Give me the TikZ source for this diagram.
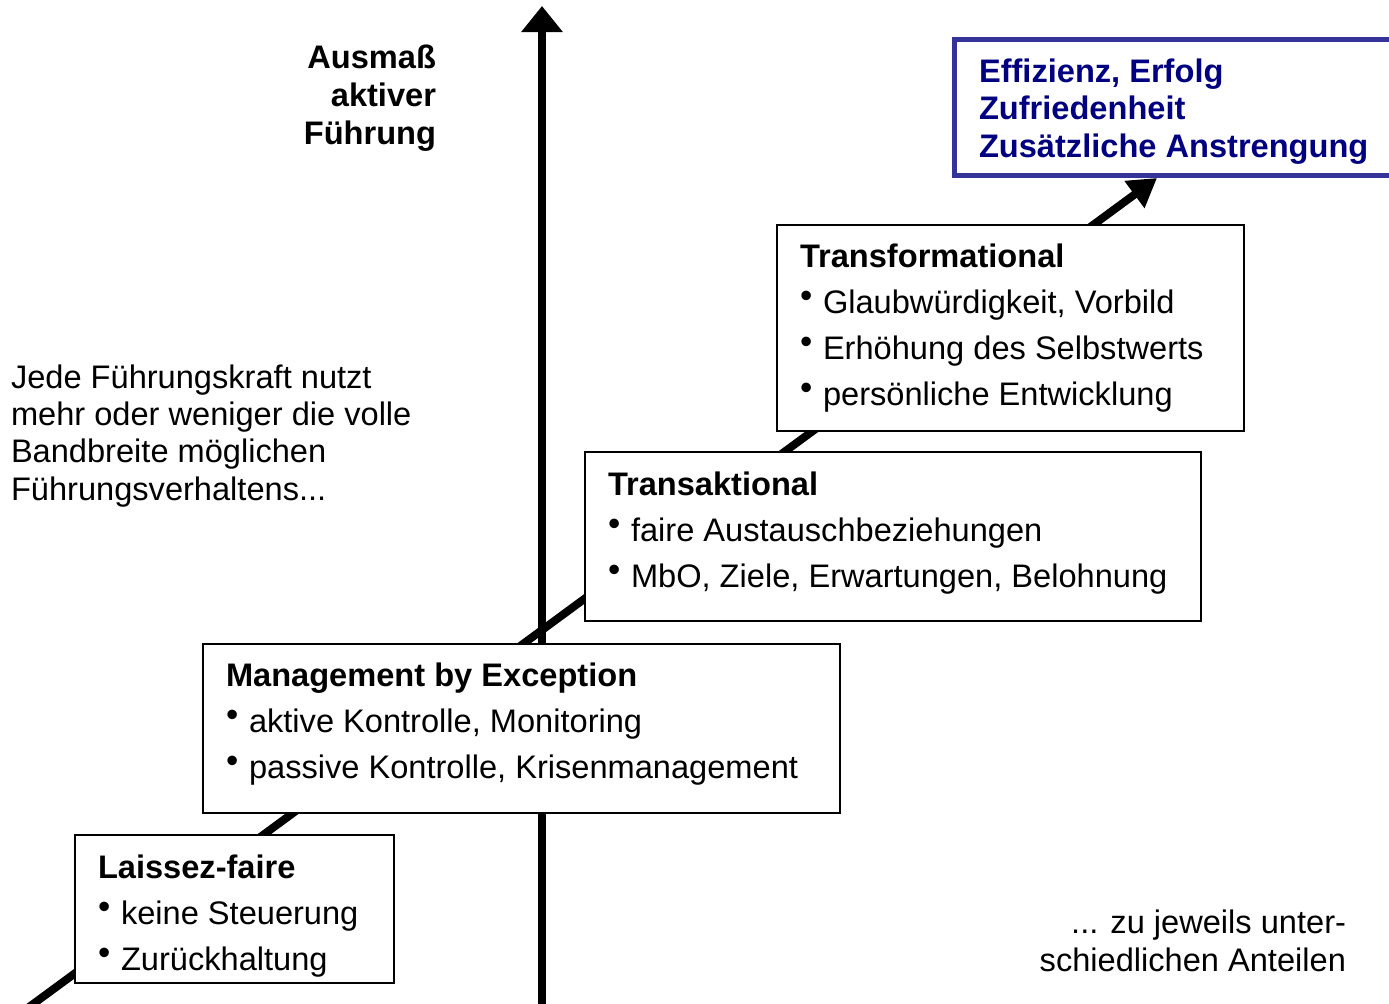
\documentclass[tikz,border=0pt]{standalone}
\usepackage{fontspec}
\setmainfont{Liberation Sans}
\usetikzlibrary{arrows.meta}
\definecolor{navytext}{HTML}{000080}
\definecolor{blueframe}{HTML}{333399}
\newcommand{\bul}{\makebox[11.5pt][l]{\raisebox{2.7pt}{\fontsize{17.5}{17.5}\selectfont\textbullet}}}
\newcommand{\fstrut}{\rule{0pt}{12pt}}
\begin{document}
\begin{tikzpicture}[x=0.5pt,y=-0.5pt,
  box/.style={draw=black,line width=1pt,fill=white,anchor=north west,inner sep=0pt,outer sep=0pt},
  boxtext/.style={anchor=north west,inner sep=0pt,outer sep=0pt,align=left,font=\fontsize{16.3}{23}\selectfont},
  plaintext/.style={inner sep=0pt,outer sep=0pt,font=\fontsize{16.3}{18.7}\selectfont},
  thickline/.style={line width=4pt}]
\useasboundingbox (0,0) rectangle (1389,1003);
% axes
\coordinate (axisbot) at (542,1012);
\coordinate (axistop) at (542,6);
\coordinate (diagstart) at (25,1010);
\coordinate (diagtip) at (1157,178);
\draw[thickline,-{Triangle[width=20pt,length=13pt]}] (axisbot) -- (axistop);
\draw[thickline,-{Triangle[width=16pt,length=14pt]}] (diagstart) -- (diagtip);
% boxes
\node[box,minimum width=159.5pt,minimum height=74pt] (lf) at (75,835) {};
\node[boxtext] (lftext) at (98,854) {\fstrut\textbf{Laissez-faire}\\ \bul keine Steuerung\\ \bul Zurückhaltung};
\node[box,minimum width=318.5pt,minimum height=84.5pt] (mbe) at (203,644) {};
\node[boxtext] (mbetext) at (226,662) {\fstrut\textbf{Management by Exception}\\ \bul aktive Kontrolle, Monitoring\\ \bul passive Kontrolle, Krisenmanagement};
\node[box,minimum width=308pt,minimum height=84.5pt] (tak) at (585,452) {};
\node[boxtext] (taktext) at (608,471) {\fstrut\textbf{Transaktional}\\ \bul faire Austauschbeziehungen\\ \bul MbO, Ziele, Erwartungen, Belohnung};
\node[box,minimum width=233.5pt,minimum height=103pt] (tfm) at (777,225) {};
\node[boxtext] (tfmtext) at (800,243) {\fstrut\textbf{Transformational}\\ \bul Glaubwürdigkeit, Vorbild\\ \bul Erhöhung des Selbstwerts\\ \bul persönliche Entwicklung};
% result box
\node[box,draw=blueframe,line width=2.5pt,minimum width=225pt,minimum height=68pt] (result) at (954.5,39.5) {};
\node[plaintext,anchor=north west,align=left,text=navytext,font=\fontsize{16.3}{18.75}\selectfont\bfseries] (resulttext) at (979,58) {\fstrut Effizienz, Erfolg\\ Zufriedenheit\\ Zusätzliche Anstrengung};
% labels
\node[plaintext,anchor=north east,align=right,font=\fontsize{16.3}{19}\selectfont\bfseries] (ylabel) at (436,44) {\fstrut Ausmaß\\ aktiver\\ Führung};
\node[plaintext,anchor=north west,align=left] (lefttext) at (11,364) {\fstrut Jede Führungskraft nutzt\\ mehr oder weniger die volle\\ Bandbreite möglichen\\ Führungsverhaltens...};
\node[plaintext,anchor=north east,align=right,font=\fontsize{16.3}{19}\selectfont] (righttext) at (1346,909) {\fstrut ... zu jeweils unter-\\ schiedlichen Anteilen};
\end{tikzpicture}
\end{document}
